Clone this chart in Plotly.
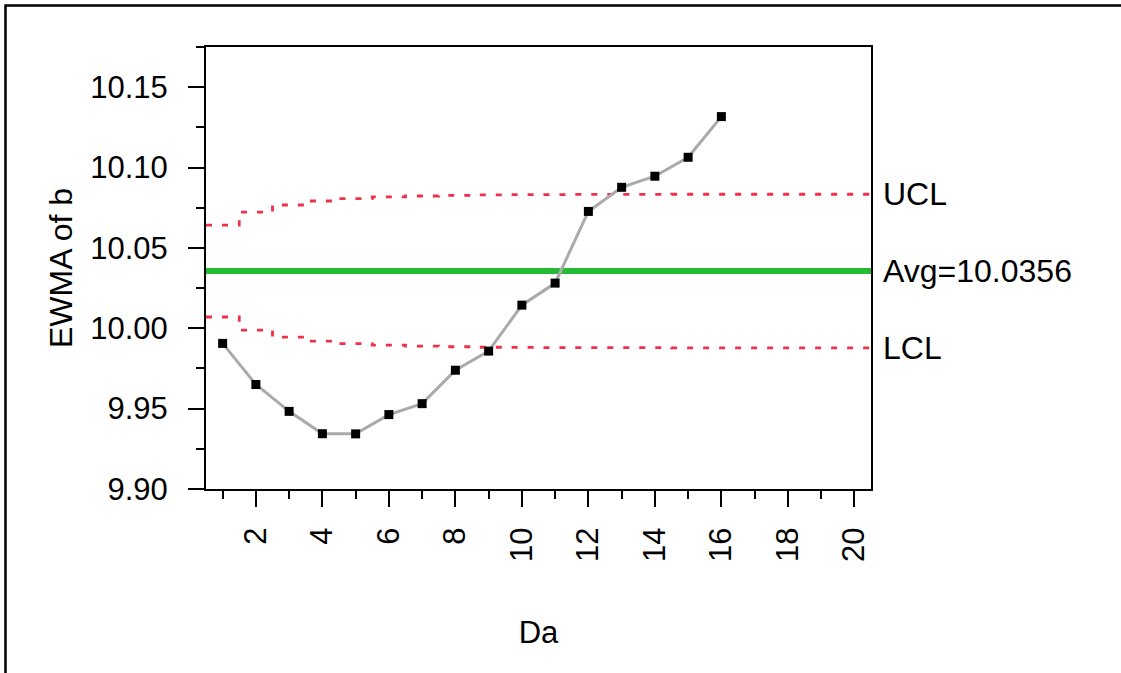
import plotly.graph_objects as go

# ---- data ----
days = list(range(1, 17))
ewma = [9.9906, 9.9650, 9.9483, 9.9344, 9.9343, 9.9463, 9.9531, 9.9739,
        9.9858, 10.0144, 10.0281, 10.0727, 10.0877, 10.0946, 10.1064, 10.1317]

limit_days = list(range(1, 21))
ucl = [10.0642, 10.0723, 10.0767, 10.0792, 10.0807, 10.0817, 10.0823, 10.0827,
       10.0830, 10.0831, 10.0832, 10.0833, 10.0833, 10.0833, 10.0834, 10.0834,
       10.0834, 10.0834, 10.0834, 10.0834]
lcl = [10.0070, 9.9989, 9.9945, 9.9920, 9.9905, 9.9895, 9.9889, 9.9885,
       9.9882, 9.9881, 9.9880, 9.9879, 9.9879, 9.9879, 9.9878, 9.9878,
       9.9878, 9.9878, 9.9878, 9.9878]
avg = 10.0356

x_tickvals = [2, 4, 6, 8, 10, 12, 14, 16, 18, 20]
y_tickvals = [9.90, 9.95, 10.00, 10.05, 10.10, 10.15]

FONT = "Liberation Sans, Arial, Helvetica, sans-serif"
RED = "#EF3048"

# step edges for the limit lines (each limit spans its day +/- 0.5)
step_x = [d - 0.5 for d in limit_days] + [limit_days[-1] + 0.5]
ucl_steps = ucl + [ucl[-1]]
lcl_steps = lcl + [lcl[-1]]

fig = go.Figure()

fig.add_hline(y=avg, line=dict(color="#22BB33", width=6), layer="below")

for ys in (ucl_steps, lcl_steps):
    fig.add_trace(go.Scatter(
        x=step_x, y=ys, mode="lines", line_shape="hv",
        line=dict(color=RED, width=2.8, dash="6px,10px"),
        hoverinfo="skip", showlegend=False))

fig.add_trace(go.Scatter(
    x=days, y=ewma, mode="lines+markers",
    line=dict(color="#AAAAAA", width=3),
    marker=dict(symbol="square", size=9, color="black"),
    showlegend=False))

labels = [("UCL", ucl[-1]), (f"Avg={avg:.4f}", avg), ("LCL", lcl[-1])]
for txt, yv in labels:
    fig.add_annotation(x=1, xref="paper", y=yv, yref="y", text=txt,
                       showarrow=False, xanchor="left", yanchor="middle",
                       xshift=10, font=dict(size=32, color="black", family=FONT))

# outer frame (left and top edges visible)
fig.add_shape(type="rect", xref="paper", yref="paper",
              x0=-0.3015, x1=2.0, y0=-1.0, y1=1.094,
              line=dict(color="black", width=2.5), fillcolor="rgba(0,0,0,0)",
              layer="above")

fig.update_layout(
    width=1121, height=673,
    margin=dict(l=206, r=250, t=47, b=184, pad=0),
    paper_bgcolor="white", plot_bgcolor="white",
    font=dict(family=FONT, size=31, color="black"),
    showlegend=False,
)

fig.update_xaxes(
    range=[0.5, 20.5], tickmode="array", tickvals=x_tickvals,
    ticktext=[str(v) for v in x_tickvals], tickangle=-90,
    ticks="outside", ticklen=16, tickwidth=2, tickcolor="black",
    minor=dict(dtick=2, tick0=1, ticklen=8, tickwidth=2, tickcolor="black", ticks="outside"),
    showline=True, linecolor="black", linewidth=2, mirror=True,
    showgrid=False, zeroline=False,
    tickfont=dict(size=31, family=FONT),
    ticklabelstandoff=8,
    title=dict(text="Da", font=dict(size=31, family=FONT), standoff=60),
)
fig.update_yaxes(
    range=[9.9, 10.175], tickmode="array", tickvals=y_tickvals,
    ticktext=[f"{v:.2f}" for v in y_tickvals],
    ticks="outside", ticklen=16, tickwidth=2, tickcolor="black",
    minor=dict(dtick=0.05, tick0=9.925, ticklen=8, tickwidth=2, tickcolor="black", ticks="outside"),
    showline=True, linecolor="black", linewidth=2, mirror=True,
    showgrid=False, zeroline=False,
    tickfont=dict(size=31, family=FONT),
    ticklabelstandoff=14,
    title=dict(text="EWMA of b", font=dict(size=32, family=FONT), standoff=8),
)

fig.write_html("out.html")
